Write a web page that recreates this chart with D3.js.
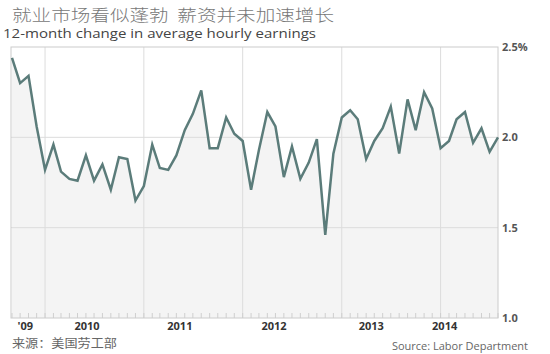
<!DOCTYPE html>
<html>
<head>
<meta charset="utf-8">
<script src="https://cdn.jsdelivr.net/npm/d3@7"></script>
<style>
  body { margin: 0; background: #fff; }
  svg { display: block; font-family: "Open Sans", "Noto Sans", sans-serif; }
</style>
</head>
<body>
<div id="chart"></div>
<script>
const WIDTH = 550;
const HEIGHT = 354;
const MARGIN = { top: 47, right: 52, bottom: 36, left: 11 };

const title = "就业市场看似蓬勃\u00a0\u00a0薪资并未加速增长";
const subtitle = "12-month change in average hourly earnings";
const sourceCn = "来源：美国劳工部";
const sourceEn = "Source: Labor Department";

// monthly, Sep 2009 .. Aug 2014
const firstMonth = new Date(2009, 8, 1);
const earnings = [
    2.44, 2.30, 2.34, 2.06, 1.82, 1.96, 1.81, 1.77, 1.76, 1.90,
    1.76, 1.85, 1.71, 1.89, 1.88, 1.65, 1.73, 1.96, 1.83, 1.82,
    1.90, 2.04, 2.13, 2.26, 1.94, 1.94, 2.11, 2.02, 1.98, 1.71,
    1.93, 2.14, 2.06, 1.78, 1.95, 1.77, 1.86, 1.99, 1.46, 1.91,
    2.11, 2.15, 2.10, 1.88, 1.98, 2.05, 2.17, 1.91, 2.21, 2.04,
    2.25, 2.16, 1.94, 1.98, 2.10, 2.14, 1.97, 2.05, 1.92, 2.00
];

const yTicks = [1.0, 1.5, 2.0, 2.5];
const yTickLabels = ["1.0", "1.5", "2.0", "2.5%"];

const xLabels = ["'09", "2010", "2011", "2012", "2013", "2014"];
const xLabelDates = ["2009-10-20", "2010-06-05", "2011-05-14", "2012-04-26", "2013-04-20", "2014-01-16"];

const months = earnings.map((v, i) => d3.timeMonth.offset(firstMonth, i));
const data = months.map((m, i) => ({ date: m, value: earnings[i] }));

const svg = d3.select("#chart")
    .append("svg")
    .attr("width", WIDTH)
    .attr("height", HEIGHT);

const x = d3.scaleTime()
    .domain(d3.extent(months))
    .range([MARGIN.left + 1, WIDTH - MARGIN.right]);

const y = d3.scaleLinear()
    .domain([1.0, 2.5])
    .range([HEIGHT - MARGIN.bottom, MARGIN.top]);

const plotLeft = MARGIN.left;
const plotRight = WIDTH - MARGIN.right;
const plotTop = MARGIN.top;
const plotBottom = HEIGHT - MARGIN.bottom;

// shaded area under the line
svg.append("path")
    .datum(data)
    .attr("fill", "#f4f4f4")
    .attr("d", d3.area()
        .x(d => x(d.date))
        .y0(plotBottom)
        .y1(d => y(d.value)));

// horizontal grid
svg.append("g")
    .selectAll("line")
    .data(yTicks.slice(1, -1))
    .enter()
    .append("line")
    .attr("x1", plotLeft)
    .attr("x2", plotRight)
    .attr("y1", d => y(d))
    .attr("y2", d => y(d))
    .attr("stroke", "#dcdcdc");

// year grid
svg.append("g")
    .selectAll("line")
    .data(d3.timeYear.range(new Date(2010, 0, 1), new Date(2015, 0, 1)))
    .enter()
    .append("line")
    .attr("x1", d => x(d))
    .attr("x2", d => x(d))
    .attr("y1", plotTop)
    .attr("y2", plotBottom)
    .attr("stroke", "#dcdcdc");

// month ticks along the bottom
svg.append("g")
    .selectAll("line")
    .data(months)
    .enter()
    .append("line")
    .attr("x1", d => x(d))
    .attr("x2", d => x(d))
    .attr("y1", plotBottom)
    .attr("y2", plotBottom - 5)
    .attr("stroke", "#cfcfcf");

// frame
svg.append("rect")
    .attr("x", plotLeft)
    .attr("y", plotTop)
    .attr("width", plotRight - plotLeft)
    .attr("height", plotBottom - plotTop)
    .attr("fill", "none")
    .attr("stroke", "#cccccc");

svg.append("path")
    .datum(data)
    .attr("fill", "none")
    .attr("stroke", "#5b7c7a")
    .attr("stroke-width", 2.5)
    .attr("stroke-linejoin", "miter")
    .attr("d", d3.line()
        .x(d => x(d.date))
        .y(d => y(d.value)));

// right axis labels
svg.append("g")
    .selectAll("text")
    .data(yTicks)
    .enter()
    .append("text")
    .attr("x", plotRight + 4)
    .attr("y", d => y(d) + 4)
    .attr("fill", "#555")
    .attr("font-weight", "bold")
    .style("font-size", "11px")
    .text((d, i) => yTickLabels[i]);

// year labels
svg.append("g")
    .selectAll("text")
    .data(xLabels)
    .enter()
    .append("text")
    .attr("x", (d, i) => x(new Date(xLabelDates[i] + "T00:00")))
    .attr("y", plotBottom + 12)
    .attr("text-anchor", "middle")
    .attr("fill", "#333")
    .attr("font-weight", "bold")
    .style("font-size", "11px")
    .text(d => d);

svg.append("text")
    .attr("x", 12)
    .attr("y", 21)
    .attr("fill", "#777")
    .attr("textLength", 322)
    .attr("lengthAdjust", "spacingAndGlyphs")
    .style("font-family", "'Noto Sans CJK SC', sans-serif")
    .style("font-weight", "300")
    .style("font-size", "16px")
    .text(title);

svg.append("text")
    .attr("x", 3)
    .attr("y", 38)
    .attr("fill", "#444")
    .attr("textLength", 313)
    .attr("lengthAdjust", "spacingAndGlyphs")
    .style("font-size", "12.5px")
    .text(subtitle);

svg.append("text")
    .attr("x", 12)
    .attr("y", 348)
    .attr("fill", "#666")
    .attr("textLength", 105)
    .attr("lengthAdjust", "spacingAndGlyphs")
    .style("font-family", "'Noto Sans CJK SC', sans-serif")
    .style("font-size", "12px")
    .text(sourceCn);

svg.append("text")
    .attr("x", 528)
    .attr("y", 350)
    .attr("text-anchor", "end")
    .attr("fill", "#666")
    .style("font-size", "11px")
    .text(sourceEn);
</script>
</body>
</html>
